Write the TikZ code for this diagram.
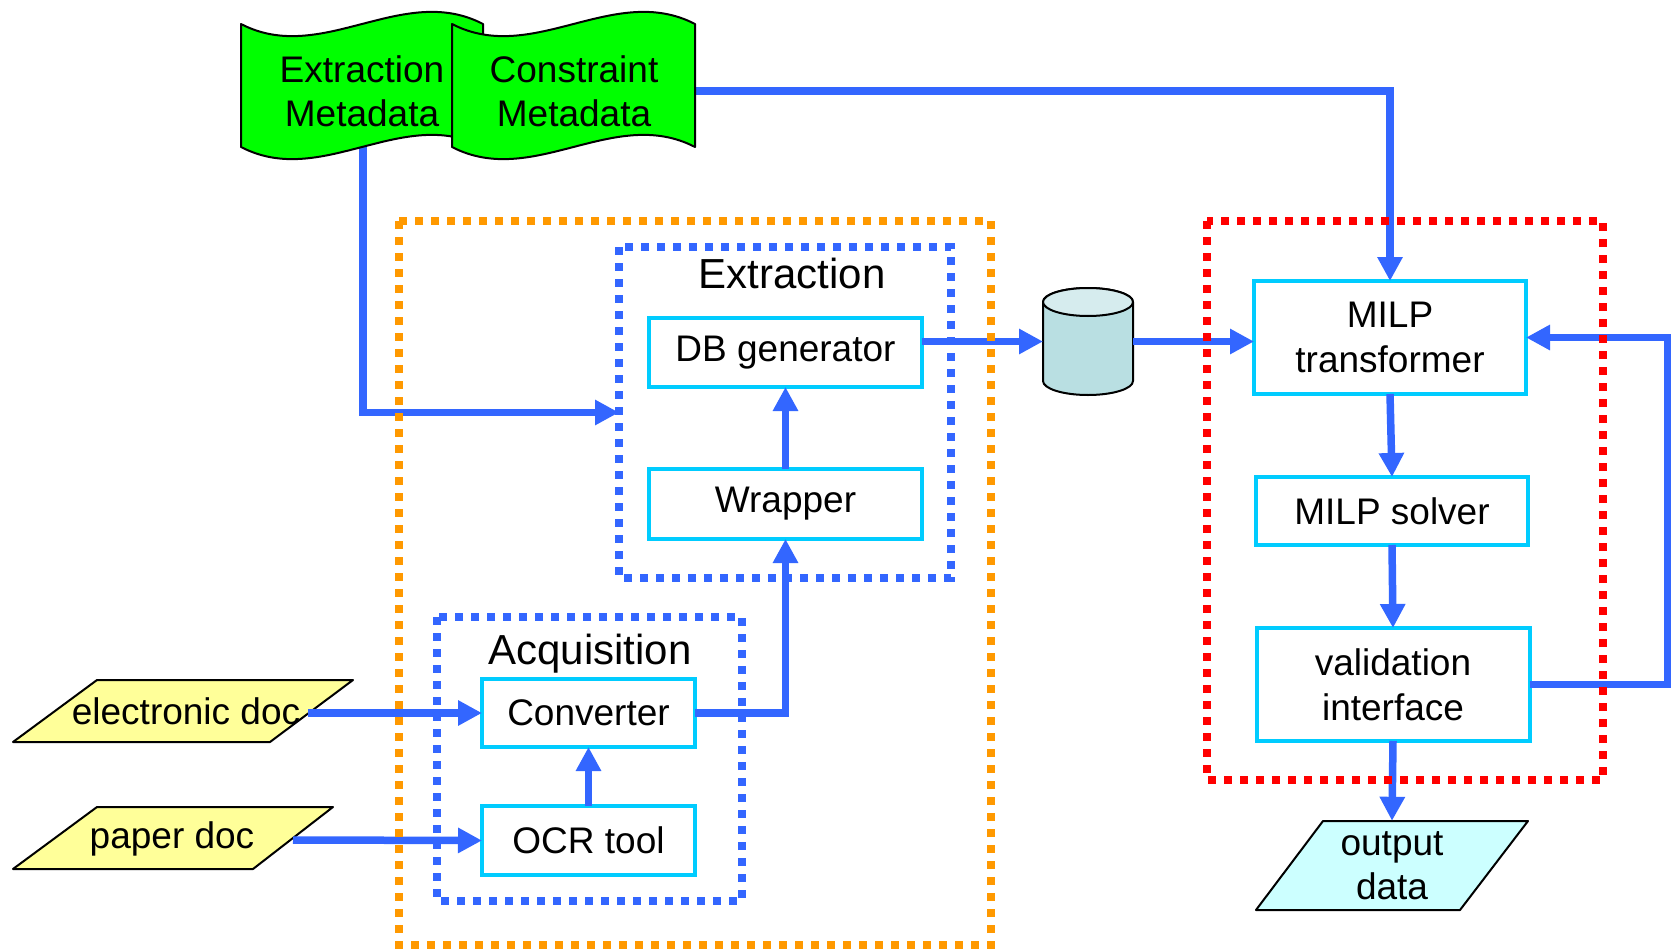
\documentclass[tikz,border=0pt]{standalone}
\usepackage{fontspec}
\setmainfont{Liberation Sans}
\usetikzlibrary{arrows.meta,calc}

\definecolor{flowblue}{HTML}{3366FF}
\definecolor{boxcyan}{HTML}{00CCFF}
\definecolor{grpred}{HTML}{FF0000}
\definecolor{grporange}{HTML}{FF9900}
\definecolor{grpblue}{HTML}{3366FF}
\definecolor{metagreen}{HTML}{00FF00}
\definecolor{docyellow}{HTML}{FFFF99}
\definecolor{outcyan}{HTML}{CCFFFF}
\definecolor{dbbody}{HTML}{B9DFE2}
\definecolor{dbtop}{HTML}{D6ECEE}

% wavy "document" banner: left x, width, fill colour
\newcommand{\metabanner}[3]{%
  \filldraw[outline, fill=#3]
    (#1,24) .. controls ({#1+#2/3},66) and ({#1+2*#2/3},-18) .. ({#1+#2},24)
    -- ({#1+#2},147)
    .. controls ({#1+2*#2/3},105) and ({#1+#2/3},189) .. (#1,147)
    -- cycle;}

\begin{document}
\begin{tikzpicture}[
  x=1pt, y=-1pt,
  proc/.style={draw=boxcyan, line width=4pt, fill=white, inner sep=0pt,
    outer sep=0pt, align=center, font=\fontsize{37}{45}\selectfont},
  grouptitle/.style={font=\fontsize{42}{50}\selectfont, inner sep=0pt},
  txt/.style={font=\fontsize{37}{44}\selectfont, align=center, inner sep=0pt},
  flow/.style={draw=flowblue, line width=7.5pt,
    -{Triangle[length=24pt 0 0,width=24pt 0 0]}},
  group/.style={line width=8pt, dash pattern=on 8pt off 8pt},
  outline/.style={draw=black, line width=2pt, line join=round},
]
\useasboundingbox (0,0) rectangle (1673,950);

% ---------- input documents ----------
\filldraw[outline, fill=docyellow] (13,742) -- (97,680) -- (353,680) -- (270,742) -- cycle;
\node[txt] (edoc) at (186,711) {electronic doc};
\filldraw[outline, fill=docyellow] (13,869) -- (97,807) -- (333,807) -- (253,869) -- cycle;
\node[txt] (pdoc) at (172,839) {paper doc};
\coordinate (edocout) at (308,713);
\coordinate (pdocout) at (293,840);

% ---------- processing blocks ----------
\node[proc, minimum width=273pt, minimum height=69pt] (dbgen) at (785.5,352.5) {DB generator};
\node[proc, minimum width=273pt, minimum height=70pt] (wrapper) at (785.5,504) {Wrapper};
\node[proc, minimum width=213pt, minimum height=68pt] (conv) at (588.5,713) {Converter};
\node[proc, minimum width=213pt, minimum height=69pt] (ocr) at (588.5,840.5) {OCR tool};
\node[proc, minimum width=272pt, minimum height=113pt] (milpt) at (1390,337.5) {MILP\\transformer};
\node[proc, minimum width=272pt, minimum height=68pt] (milps) at (1392,511) {MILP solver};
\node[proc, minimum width=273pt, minimum height=113pt] (valid) at (1393,684.5) {validation\\interface};

\node[grouptitle] (extrtitle) at (792,273) {Extraction};
\node[grouptitle] (acqtitle) at (590,654) {Acquisition};

% extraction group frame (used as an arrow target)
\node[inner sep=0pt, outer sep=0pt, minimum width=332pt, minimum height=331pt] (extr) at (785,412.5) {};

% ---------- database cylinder ----------
\node[inner sep=0pt, outer sep=0pt, minimum width=90pt, minimum height=107pt] (cyl) at (1088,341.5) {};
\filldraw[outline, fill=dbbody] (1043,302) -- (1043,381)
  arc[start angle=180, end angle=360, x radius=45pt, y radius=14pt]
  -- (1133,302)
  arc[start angle=0, end angle=180, x radius=45pt, y radius=14pt] -- cycle;
\filldraw[outline, fill=dbtop] (1088,302) ellipse [x radius=45pt, y radius=14pt];

% ---------- output data ----------
\filldraw[outline, fill=outcyan] (1323,821) -- (1528,821) -- (1460,910) -- (1256,910) -- cycle;
\node[txt, minimum height=89pt] (odata) at (1392,865.5) {output\\data};

% ---------- metadata banners ----------
\coordinate (emout) at (363,130);
\coordinate (cmout) at (694,91);

% ---------- connectors ----------
\draw[flow] (emout) |- (extr.west);
\draw[flow] (cmout) -| (milpt.north);
\draw[flow] (edocout) -- (conv.west);
\draw[flow] (pdocout) -- (ocr.west);
\draw[flow] (ocr.north) -- (conv.south);
\draw[flow] (conv.east) -| (wrapper.south);
\draw[flow] (wrapper.north) -- (dbgen.south);
\draw[flow] (dbgen.east |- cyl.west) -- (cyl.west);
\draw[flow] (cyl.east) -- (cyl.east -| milpt.west);
\draw[flow] (milpt.south) -- (milps.north);
\draw[flow] (milps.south) -- (valid.north);
\draw[flow] (valid.east) -- ++(138,0) |- (milpt.east);
\draw[flow] (valid.south) -- (odata.north);

% banners on top of the connector stubs
\metabanner{241}{242}{metagreen}
\metabanner{452}{243}{metagreen}
\node[txt] (emeta) at (362,91) {Extraction\\Metadata};
\node[txt] (cmeta) at (574,91) {Constraint\\Metadata};

% ---------- dotted group frames ----------
\draw[group, draw=grporange] (399,221) rectangle (991,945);
\draw[group, draw=grpblue] (extr.north west) rectangle (extr.south east);
\draw[group, draw=grpblue] (437,617) rectangle (742,901);
\draw[group, draw=grpred] (1207,221) rectangle (1603,780);
\end{tikzpicture}
\end{document}
